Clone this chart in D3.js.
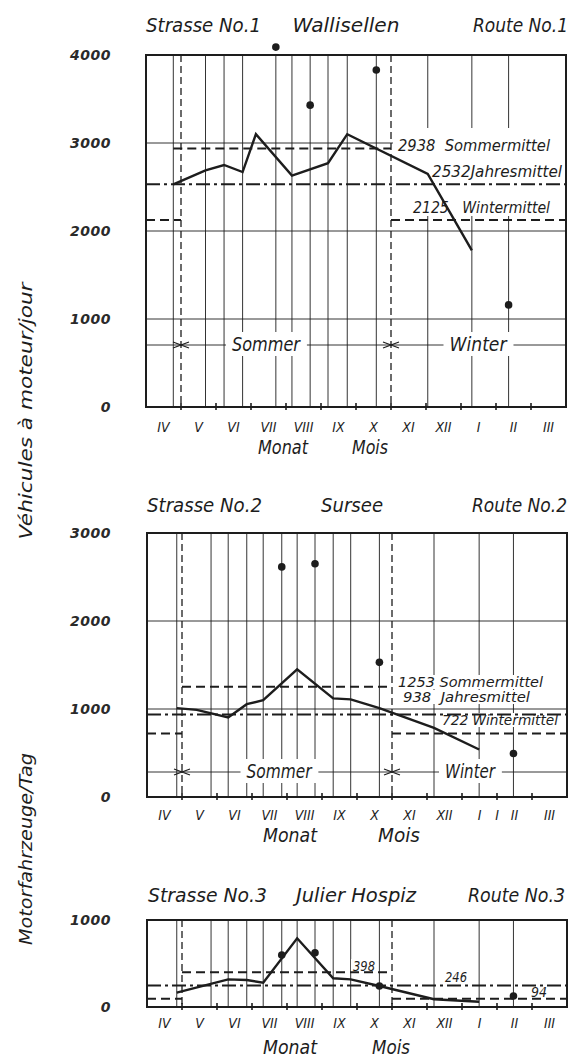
<!DOCTYPE html>
<meta charset="utf-8">
<script src="https://d3js.org/d3.v7.min.js"></script>
<style>
  body { margin: 0; background: #fff; }
</style>
<div id="chart"></div>
<script>

// month axis, April to March
var months = ["IV", "V", "VI", "VII", "VIII", "IX", "X", "XI", "XII", "I", "II", "III"];
var seasonBounds = [1, 7];   // 1 May and 1 November, in months from 1 April

// Strasse No.1 Wallisellen
var titles1 = ["Strasse No.1", "Wallisellen", "Route No.1"];
var gridDays1 = [0.78, 1.7, 2.23, 2.76, 3.71, 4.17, 4.69, 5.2, 5.75, 6.58, 8.05, 9.31, 10.36];
var lineDays1 = [0.78, 1.7, 2.23, 2.76, 3.14, 4.17, 5.2, 5.75, 8.05, 9.31];
var lineVals1 = [2530, 2690, 2750, 2670, 3100, 2630, 2770, 3100, 2650, 1780];
var dotDays1 = [3.71, 4.69, 6.58, 10.36];
var dotVals1 = [4090, 3430, 3830, 1160];
var means1 = [2938, 2532, 2125];   // Sommermittel, Jahresmittel, Wintermittel

// Strasse No.2 Sursee
var titles2 = ["Strasse No.2", "Sursee", "Route No.2"];
var gridDays2 = [0.85, 1.83, 2.32, 2.85, 3.32, 3.85, 4.29, 4.8, 5.32, 5.82, 6.64, 8.2, 9.49, 10.47];
var lineDays2 = [0.85, 1.42, 2.32, 2.85, 3.32, 4.29, 5.32, 5.82, 6.64, 8.2, 9.49];
var lineVals2 = [1010, 990, 905, 1055, 1100, 1450, 1120, 1110, 1010, 785, 540];
var dotDays2 = [3.85, 4.8, 6.64, 10.47];
var dotVals2 = [2615, 2650, 1530, 495];
var means2 = [1253, 938, 722];

// Strasse No.3 Julier Hospiz
var titles3 = ["Strasse No.3", "Julier Hospiz", "Route No.3"];
var gridDays3 = [0.85, 1.83, 2.32, 2.85, 3.32, 3.85, 4.29, 4.8, 5.32, 5.82, 6.64, 8.2, 9.49, 10.47];
var lineDays3 = [0.85, 2.32, 2.85, 3.32, 4.29, 5.32, 5.82, 6.64, 8.2, 9.49];
var lineVals3 = [165, 318, 310, 280, 790, 330, 318, 241, 89, 61];
var dotDays3 = [3.85, 4.8, 6.64, 10.47];
var dotVals3 = [598, 624, 241, 126];
var means3 = [398, 246, 94];

var ink = "#1d1d1d";
var letterFont = '"DejaVu Sans Condensed", "DejaVu Sans", sans-serif';

var svg = d3.select("#chart").append("svg")
    .attr("width", 585)
    .attr("height", 1057);
svg.append("rect").attr("width", 585).attr("height", 1057).attr("fill", "#fff");

// lettering helper, width is fitted to the drawing
function letter(sel, t, x, y, size, w, anchor) {
  var el = sel.append("text")
    .attr("x", x).attr("y", y)
    .attr("text-anchor", anchor || "start")
    .style("font-family", letterFont)
    .style("font-style", "italic")
    .style("font-size", size + "px")
    .style("fill", ink)
    .style("white-space", "pre")
    .text(t);
  if (w) el.attr("textLength", w).attr("lengthAdjust", "spacingAndGlyphs");
  return el;
}

function knockout(layer, el, padX, padY) {
  var b = el.node().getBBox();
  layer.append("rect")
    .attr("x", b.x - padX).attr("y", b.y - padY)
    .attr("width", b.width + 2 * padX).attr("height", b.height + 2 * padY)
    .attr("fill", "#fff");
}

var panels = [
  { top: 55, bottom: 407, left: 146, right: 566, yMax: 4000,
    titles: titles1, grid: gridDays1, lineX: lineDays1, lineY: lineVals1,
    dotX: dotDays1, dotY: dotVals1, means: means1, summerFrom: 0.78,
    titleY: 32, titlePos: [[146, 115, "start"], [346, 107, "middle"], [568, 95, "end"]],
    rowY: 345, rowLabels: [["Sommer", 266, 68], ["Winter", 478, 57]],
    monthY: 432, wordsY: 454, words: [["Monat", 283, 50], ["Mois", 370, 36]],
    meanSize: 16,
    meanLabels: [["  Sommermittel", 398, 151, 152],
                 ["Jahresmittel", 432, 177, 130],
                 ["   Wintermittel", 413, 213, 137]],
    clear: [128, 216],
    extraMonths: [] },
  { top: 533, bottom: 797, left: 147, right: 567, yMax: 3000,
    titles: titles2, grid: gridDays2, lineX: lineDays2, lineY: lineVals2,
    dotX: dotDays2, dotY: dotVals2, means: means2, summerFrom: 1,
    titleY: 512, titlePos: [[147, 115, "start"], [352, 62, "middle"], [567, 95, "end"]],
    rowY: 772, rowLabels: [["Sommer", 279, 65], ["Winter", 470, 50]],
    monthY: 820, wordsY: 842, words: [["Monat", 290, 54], ["Mois", 399, 42]],
    meanSize: 14,
    meanLabels: [[" Sommermittel", 398, 687, 145],
                 ["  Jahresmittel", 403, 702, 127],
                 [" Wintermittel", 442, 725, 116]],
    clear: null,
    extraMonths: [[10, "I"]] },
  { top: 920, bottom: 1007, left: 147, right: 567, yMax: 1000,
    titles: titles3, grid: gridDays3, lineX: lineDays3, lineY: lineVals3,
    dotX: dotDays3, dotY: dotVals3, means: means3, summerFrom: 1,
    titleY: 902, titlePos: [[148, 119, "start"], [356, 120, "middle"], [565, 97, "end"]],
    rowY: null, rowLabels: [],
    monthY: 1028, wordsY: 1054, words: [["Monat", 290, 54], ["Mois", 391, 38]],
    meanSize: 14,
    meanLabels: [["", 353, 971, 22], ["", 445, 982, 22], ["", 531, 997, 16]],
    clear: null,
    extraMonths: [] }
];

panels.forEach(function(p) {
  var x = d3.scaleLinear().domain([0, 12]).range([p.left, p.right]);
  var y = d3.scaleLinear().domain([0, p.yMax]).range([p.bottom, p.top]);

  var g = svg.append("g");
  var gGrid = g.append("g");
  var gKnock = g.append("g");
  var gText = g.append("g");
  var gMarks = g.append("g");

  // thin grid: every 1000 vehicles and every count day
  gGrid.selectAll(null).data(d3.range(1000, p.yMax, 1000)).join("line")
      .attr("x1", p.left).attr("x2", p.right)
      .attr("y1", function(d) { return y(d); }).attr("y2", function(d) { return y(d); })
      .attr("stroke", ink).attr("stroke-width", 0.9);
  gGrid.selectAll(null).data(p.grid).join("line")
      .attr("x1", function(d) { return x(d); }).attr("x2", function(d) { return x(d); })
      .attr("y1", p.top).attr("y2", p.bottom)
      .attr("stroke", ink).attr("stroke-width", 0.9);

  // blank block behind the mean labels, as on the drawing
  if (p.clear) {
    gKnock.append("rect")
        .attr("x", x(seasonBounds[1]) + 2).attr("y", p.clear[0])
        .attr("width", p.right - x(seasonBounds[1]) - 3)
        .attr("height", p.clear[1] - p.clear[0])
        .attr("fill", "#fff");
  }

  // Sommer / Winter row
  if (p.rowY) {
    gGrid.append("line")
        .attr("x1", p.left).attr("x2", p.right)
        .attr("y1", p.rowY).attr("y2", p.rowY)
        .attr("stroke", ink).attr("stroke-width", 0.9);
    p.rowLabels.forEach(function(r) {
      var t = letter(gText, r[0], r[1], p.rowY + 6, 19, r[2], "middle");
      knockout(gKnock, t, 6, 1);
    });
    seasonBounds.forEach(function(b) {
      var bx = x(b);
      [-1, 1].forEach(function(s) {
        gMarks.append("path")
            .attr("d", "M" + (bx + s * 8) + "," + (p.rowY - 3) + "L" + bx + "," + p.rowY +
                       "L" + (bx + s * 8) + "," + (p.rowY + 3))
            .attr("fill", "none").attr("stroke", ink).attr("stroke-width", 1.2);
      });
    });
  }

  // season boundaries
  gMarks.selectAll(null).data(seasonBounds).join("line")
      .attr("x1", function(d) { return x(d); }).attr("x2", function(d) { return x(d); })
      .attr("y1", p.top).attr("y2", p.bottom)
      .attr("stroke", ink).attr("stroke-width", 1.3)
      .attr("stroke-dasharray", "7,4");

  // frame
  gMarks.append("rect")
      .attr("x", p.left).attr("y", p.top)
      .attr("width", p.right - p.left).attr("height", p.bottom - p.top)
      .attr("fill", "none").attr("stroke", ink).attr("stroke-width", 2);

  // month ticks crossing the base line
  gMarks.selectAll(null).data(d3.range(1, 12)).join("line")
      .attr("x1", function(d) { return x(d); }).attr("x2", function(d) { return x(d); })
      .attr("y1", p.bottom - 4).attr("y2", p.bottom + 3)
      .attr("stroke", ink).attr("stroke-width", 1.6);

  // month names
  months.forEach(function(m, i) {
    letter(gText, m, x(i + 0.5), p.monthY, 14, null, "middle");
  });
  p.extraMonths.forEach(function(m) {
    letter(gText, m[1], x(m[0]), p.monthY, 14, null, "middle");
  });
  p.words.forEach(function(w) {
    letter(gText, w[0], w[1], p.wordsY, 19, w[2], "middle");
  });

  // titles
  p.titles.forEach(function(t, i) {
    var tp = p.titlePos[i];
    letter(gText, t, tp[0], p.titleY, 20, tp[1], tp[2]);
  });

  // value axis
  var axis = d3.axisLeft(y)
      .tickValues(d3.range(0, p.yMax + 1, 1000))
      .tickSize(0)
      .tickPadding(p.left - 111)
      .tickFormat(d3.format("d"));
  var ag = g.append("g").attr("transform", "translate(" + p.left + ",0)").call(axis);
  ag.select(".domain").remove();
  ag.selectAll("text")
      .style("font-family", '"DejaVu Sans", sans-serif')
      .style("font-style", "italic")
      .style("font-weight", "bold")
      .style("font-size", "14px")
      .style("letter-spacing", "0.5px")
      .style("fill", "#2a2a2a");

  // mean labels: value followed by its name
  p.meanLabels.forEach(function(l, i) {
    var t = letter(gText, p.means[i] + l[0], l[1], l[2], p.meanSize, l[3], "start");
    knockout(gKnock, t, 2, -1);
  });

  // mean lines
  var ms = p.means;
  gMarks.append("line")
      .attr("x1", x(p.summerFrom)).attr("x2", x(seasonBounds[1]))
      .attr("y1", y(ms[0])).attr("y2", y(ms[0]))
      .attr("stroke", ink).attr("stroke-width", 2).attr("stroke-dasharray", "9,5");
  gMarks.append("line")
      .attr("x1", x(0)).attr("x2", x(12))
      .attr("y1", y(ms[1])).attr("y2", y(ms[1]))
      .attr("stroke", ink).attr("stroke-width", 2).attr("stroke-dasharray", "14,4,3,4");
  [[0, seasonBounds[0]], [seasonBounds[1], 12]].forEach(function(s) {
    gMarks.append("line")
        .attr("x1", x(s[0])).attr("x2", x(s[1]))
        .attr("y1", y(ms[2])).attr("y2", y(ms[2]))
        .attr("stroke", ink).attr("stroke-width", 2).attr("stroke-dasharray", "9,5");
  });

  // traffic line
  var pts = p.lineX.map(function(d, i) { return [d, p.lineY[i]]; });
  gMarks.append("path")
      .datum(pts)
      .attr("fill", "none")
      .attr("stroke", ink)
      .attr("stroke-width", 2.4)
      .attr("d", d3.line().x(function(d) { return x(d[0]); }).y(function(d) { return y(d[1]); }));

  // single high counts
  gMarks.selectAll(null).data(p.dotX).join("circle")
      .attr("cx", function(d) { return x(d); })
      .attr("cy", function(d, i) { return y(p.dotY[i]); })
      .attr("r", 3.8)
      .attr("fill", ink);
});

// side titles
svg.append("text")
    .attr("transform", "translate(32,411) rotate(-90)")
    .attr("text-anchor", "middle")
    .attr("textLength", 257).attr("lengthAdjust", "spacingAndGlyphs")
    .style("font-family", letterFont).style("font-style", "italic")
    .style("font-size", "17px").style("fill", ink)
    .text("Véhicules à moteur/jour");
svg.append("text")
    .attr("transform", "translate(32,849) rotate(-90)")
    .attr("text-anchor", "middle")
    .attr("textLength", 192).attr("lengthAdjust", "spacingAndGlyphs")
    .style("font-family", letterFont).style("font-style", "italic")
    .style("font-size", "17px").style("fill", ink)
    .text("Motorfahrzeuge/Tag");

</script>
